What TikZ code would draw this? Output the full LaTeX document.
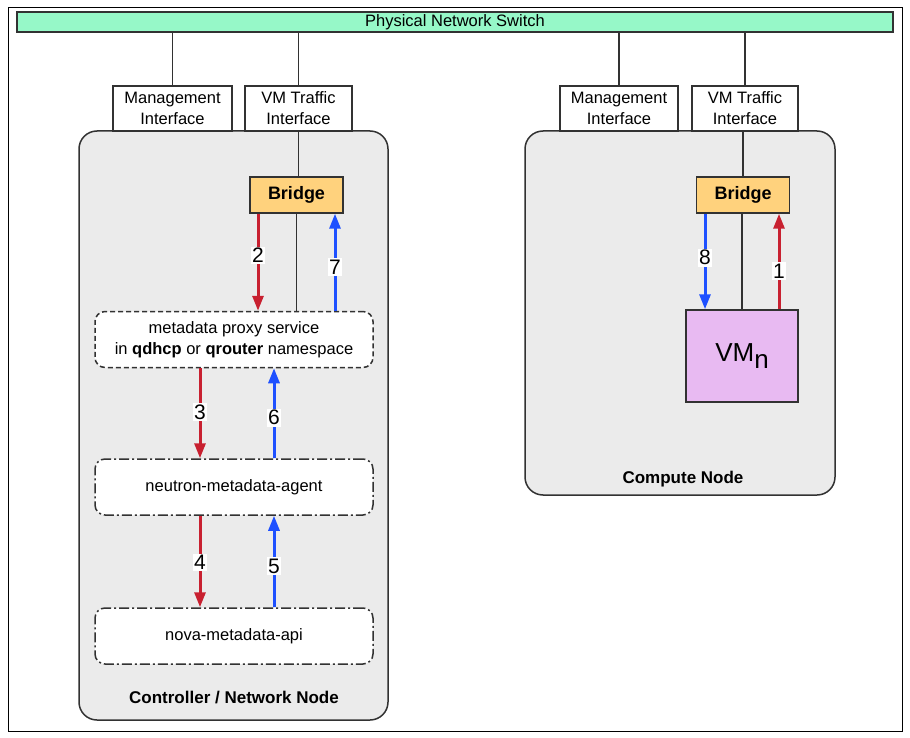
\documentclass[tikz,border=0pt]{standalone}
\usepackage{fontspec}
\setmainfont{Liberation Sans}
\usetikzlibrary{arrows.meta,positioning}
\definecolor{switchgreen}{RGB}{150,248,200}
\definecolor{bridgeorange}{RGB}{255,210,125}
\definecolor{vmpurple}{RGB}{232,186,242}
\definecolor{hostgray}{RGB}{235,235,235}
\definecolor{flowred}{RGB}{200,32,48}
\definecolor{flowblue}{RGB}{30,80,255}
\definecolor{edgegray}{RGB}{50,50,50}

\tikzset{
  txt/.style={font=\fontsize{16.5}{21}\selectfont},
  host/.style={draw=edgegray, line width=1.5pt, fill=hostgray, rounded corners=18pt},
  iface/.style={txt, draw=edgegray, line width=1.5pt, fill=white, align=center,
    minimum height=45pt, inner sep=0pt},
  bridgebox/.style={draw=edgegray, line width=1.5pt, fill=bridgeorange,
    minimum width=93pt, minimum height=36pt, font=\fontsize{18}{20}\selectfont\bfseries},
  svc/.style={txt, draw=edgegray, line width=1.5pt, fill=white, rounded corners=10pt,
    minimum width=278pt, minimum height=56pt, align=center},
  wire/.style={draw=edgegray, line width=1.5pt},
  flow/.style={line width=3pt, -{Triangle[width=11pt,length=15pt]}},
  req/.style={flow, flowred},
  resp/.style={flow, flowblue},
  step num/.style={fill=white, text=black, inner sep=1.5pt, font=\fontsize{21}{22}\selectfont},
  hostname/.style={font=\fontsize{17}{20}\selectfont\bfseries}
}

\begin{document}
\begin{tikzpicture}[x=1pt,y=-1pt]
\useasboundingbox (0,0) rectangle (910,738);

% Frame
\draw[line width=1pt, fill=white] (8,8) rectangle (902,731);

% Switch
\node[txt, draw=edgegray, line width=1.5pt, fill=switchgreen, minimum width=876pt,
  minimum height=20pt, inner sep=0pt] (switch) at (455,22) {Physical Network Switch};

% Hosts
\node[host, minimum width=309pt, minimum height=589pt] (ctrl) at (233.5,425.5) {};
\node[host, minimum width=310pt, minimum height=364pt] (comp) at (680,313) {};
\node[hostname] (ctrlname) at (234,698) {Controller / Network Node};
\node[hostname] (compname) at (683,479) {Compute Node};

% Interfaces
\node[iface, minimum width=119pt] (mgmtL) at (172.5,108.5) {Management\\Interface};
\node[iface, minimum width=107pt] (vmL) at (298.5,108.5) {VM Traffic\\Interface};
\node[iface, minimum width=118pt] (mgmtR) at (619,108.5) {Management\\Interface};
\node[iface, minimum width=106pt] (vmR) at (745,108.5) {VM Traffic\\Interface};
\foreach \i in {mgmtL,vmL,mgmtR,vmR} {
    \draw[wire] (switch.south -| \i.north) -- (\i.north);
}

% Controller side
\node[bridgebox] (bridgeL) at (296.5,195) {Bridge};
\node[svc, dashed, dash pattern=on 5pt off 3pt] (proxy) at (234,339.5)
  {metadata proxy service\\in \textbf{qdhcp} or \textbf{qrouter} namespace};
\node[svc, dash pattern=on 10pt off 3pt on 2pt off 3pt] (agent) at (234,487) {neutron-metadata-agent};
\node[svc, dash pattern=on 10pt off 3pt on 2pt off 3pt] (api) at (234,636) {nova-metadata-api};

\draw[wire] (vmL.south) -- (vmL.south |- bridgeL.north);
\draw[wire] (bridgeL.south) -- (bridgeL.south |- proxy.north);

\draw[req] ([xshift=-38.5pt]bridgeL.south) -- ([xshift=-38.5pt]bridgeL.south |- proxy.north)
  node[step num, pos=0.43] {2};
\draw[resp] ([xshift=38.5pt]bridgeL.south |- proxy.north) -- ([xshift=38.5pt]bridgeL.south)
  node[step num, pos=0.45] {7};
\draw[req] ([xshift=-34pt]proxy.south) -- ([xshift=-34pt]agent.north)
  node[step num, pos=0.49] {3};
\draw[resp] ([xshift=40pt]agent.north) -- ([xshift=40pt]proxy.south)
  node[step num, pos=0.45] {6};
\draw[req] ([xshift=-34pt]agent.south) -- ([xshift=-34pt]api.north)
  node[step num, pos=0.51] {4};
\draw[resp] ([xshift=40pt]api.north) -- ([xshift=40pt]agent.south)
  node[step num, pos=0.45] {5};

% Compute side
\node[bridgebox] (bridgeR) at (743,195) {Bridge};
\node[draw=edgegray, line width=1.5pt, fill=vmpurple, minimum width=112pt,
  minimum height=92pt, font=\fontsize{26}{30}\selectfont] (vm) at (742,356)
  {VM\raisebox{-7pt}{n}};

\draw[wire] (vmR.south -| bridgeR.north) -- (bridgeR.north);
\draw[wire] ([xshift=-1pt]bridgeR.south) -- ([xshift=-1pt]bridgeR.south |- vm.north);
\draw[resp] ([xshift=-38pt]bridgeR.south) -- ([xshift=-38pt]bridgeR.south |- vm.north)
  node[step num, pos=0.46] {8};
\draw[req] ([xshift=36pt]bridgeR.south |- vm.north) -- ([xshift=36pt]bridgeR.south)
  node[step num, pos=0.4] {1};

\end{tikzpicture}
\end{document}
